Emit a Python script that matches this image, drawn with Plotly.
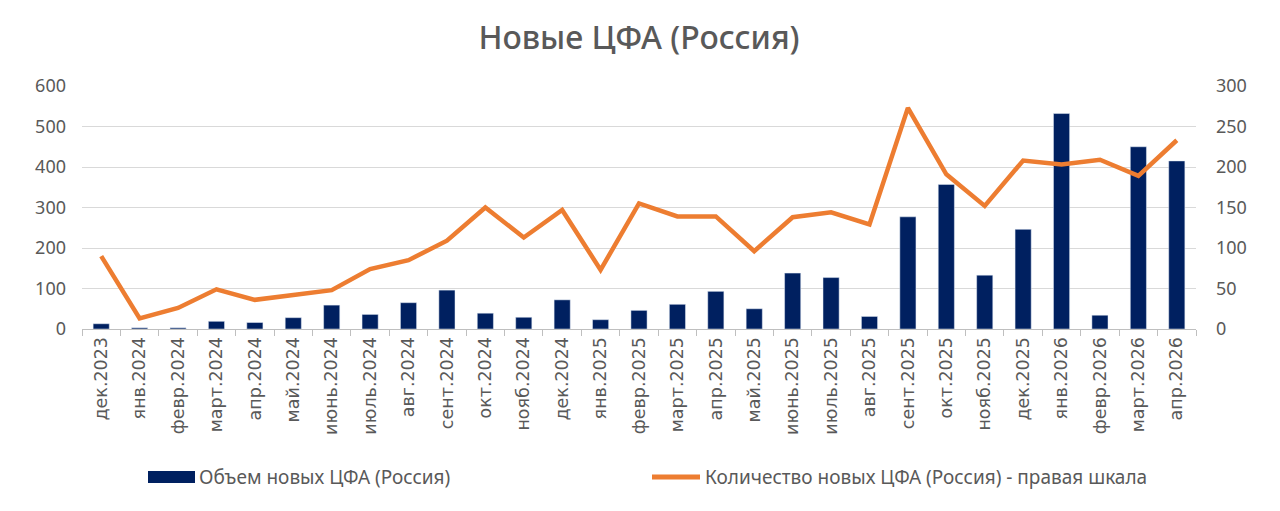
import plotly.graph_objects as go

months = ["дек.2023", "янв.2024", "февр.2024", "март.2024", "апр.2024", "май.2024",
          "июнь.2024", "июль.2024", "авг.2024", "сент.2024", "окт.2024", "нояб.2024",
          "дек.2024", "янв.2025", "февр.2025", "март.2025", "апр.2025", "май.2025",
          "июнь.2025", "июль.2025", "авг.2025", "сент.2025", "окт.2025", "нояб.2025",
          "дек.2025", "янв.2026", "февр.2026", "март.2026", "апр.2026"]

# объем новых ЦФА (левая шкала)
volume = [13, 3, 3, 19, 16, 28, 59, 36, 65, 96, 39, 29,
          72, 23, 46, 61, 93, 50, 138, 127, 31, 277, 357, 133,
          246, 532, 34, 450, 415]

# количество новых ЦФА (правая шкала)
count = [90, 13, 26, 49, 36, 42, 48, 74, 85, 109, 150, 113,
         147, 73, 155, 139, 139, 96, 138, 144, 129, 273, 191, 152,
         208, 203, 209, 189, 233]

bar_name = "Объем новых ЦФА (Россия)"
line_name = "Количество новых ЦФА (Россия) - правая шкала"
navy = "#002060"
orange = "#ED7D31"
grey = "#595959"

fig = go.Figure()
fig.add_trace(go.Bar(x=months, y=volume, name=bar_name, marker_color=navy))
fig.add_trace(go.Scatter(x=months, y=count, yaxis="y2", mode="lines", name=line_name,
                         line=dict(color=orange, width=4.5)))

# легенда вручную (широкий маркер как в Excel); страница сдвинута на 8px отступом body
fig.add_shape(type="rect", xref="paper", yref="paper",
              x0=(148 - 82) / 1114, x1=(195 - 82) / 1114, y0=-0.634, y1=-0.584,
              fillcolor=navy, line_width=0)
fig.add_shape(type="line", xref="paper", yref="paper",
              x0=(652 - 82) / 1114, x1=(700 - 82) / 1114, y0=-0.609, y1=-0.609,
              line=dict(color=orange, width=5))
for xpix, txt in [(197, bar_name), (703, line_name)]:
    fig.add_annotation(text=txt, xref="paper", yref="paper", x=(xpix - 82) / 1114, y=-0.609,
                       xanchor="left", yanchor="middle", showarrow=False,
                       font=dict(family="Noto Sans", size=19, color=grey))

fig.update_layout(
    width=1280, height=511,
    paper_bgcolor="white", plot_bgcolor="white",
    margin=dict(l=74, r=92, t=78, b=190),
    bargap=0.58,
    showlegend=False,
    title=dict(text="Новые ЦФА (Россия)", x=(639 - 8) / 1280, xanchor="center",
               y=1 - 30 / 511, yanchor="middle",
               font=dict(family="Noto Sans", size=32, color=grey, weight=500)),
    xaxis=dict(type="category", tickangle=-90, showgrid=False, automargin=False,
               showline=True, linecolor="#bfbfbf", linewidth=1,
               ticks="outside", tickson="boundaries", ticklen=6, tickcolor="#bfbfbf",
               tickfont=dict(family="DejaVu Sans", size=17.5, color=grey)),
    yaxis=dict(range=[0, 600], dtick=100, showgrid=True, gridcolor="#d9d9d9",
               zeroline=False, ticks="", ticklabelstandoff=15, automargin=False,
               tickfont=dict(family="Noto Sans", size=18, color=grey)),
    yaxis2=dict(range=[0, 300], dtick=50, overlaying="y", side="right",
                showgrid=False, zeroline=False, ticklabelstandoff=19, automargin=False,
                tickfont=dict(family="Noto Sans", size=18, color=grey)),
)

fig.write_html("out.html")
